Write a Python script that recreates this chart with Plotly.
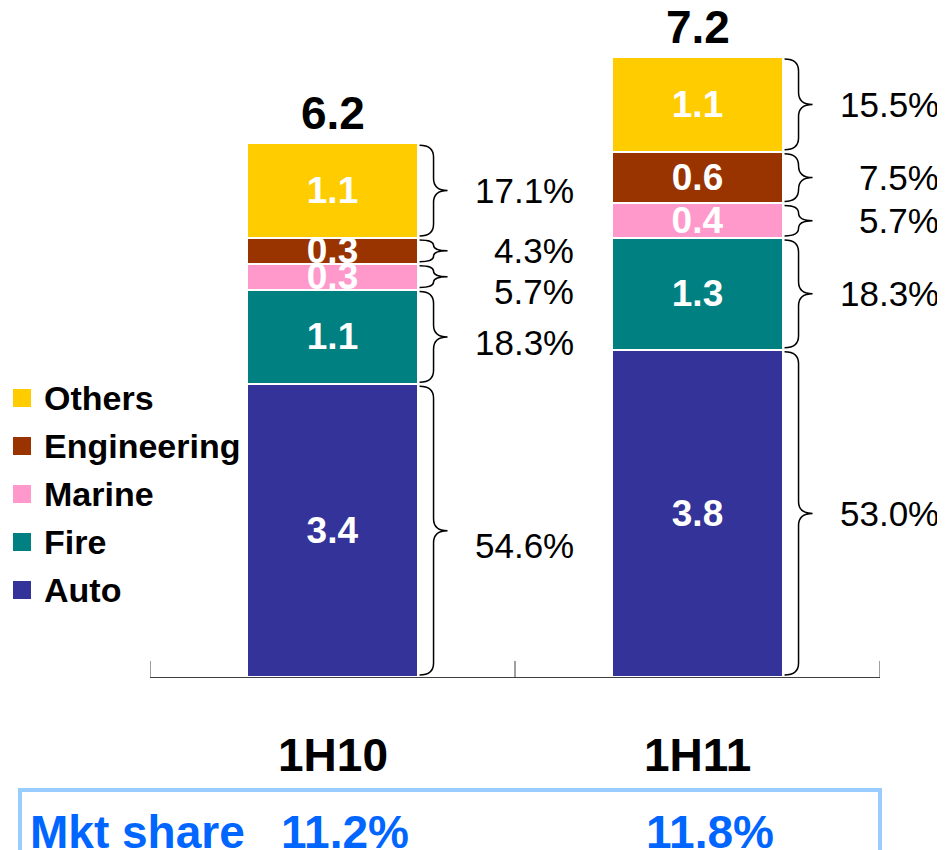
import plotly.graph_objects as go

# --- data ---
periods = ["1H10", "1H11"]
segments = ["Auto", "Fire", "Marine", "Engineering", "Others"]
values = {
    "Auto": [3.4, 3.8],
    "Fire": [1.1, 1.3],
    "Marine": [0.3, 0.4],
    "Engineering": [0.3, 0.6],
    "Others": [1.1, 1.1],
}
shares = {
    "Auto": ["54.6%", "53.0%"],
    "Fire": ["18.3%", "18.3%"],
    "Marine": ["5.7%", "5.7%"],
    "Engineering": ["4.3%", "7.5%"],
    "Others": ["17.1%", "15.5%"],
}
totals = [6.2, 7.2]
mkt_share = ["11.2%", "11.8%"]

colors = {
    "Auto": "#333399",
    "Fire": "#008080",
    "Marine": "#FF99CC",
    "Engineering": "#993300",
    "Others": "#FFCC00",
}

# --- layout geometry (screen pixels; page body has an 8px margin) ---
BODY = 8
W, H = 945 - BODY, 850 - BODY
PL, PR, PT, PB = 150, 880, 20, 677          # plot area on screen
ML, MR, MT = PL - BODY, 945 - PR, PT - BODY
MB = H - (PB - BODY)
PW, PH = PR - PL, PB - PT
PX_PER_UNIT = 86.1
Y_MAX = PH / PX_PER_UNIT
X_RANGE = [-0.5, 1.5]
BAR_W = 0.466
PX_X = (X_RANGE[1] - X_RANGE[0]) / PW   # data units per pixel on x
PX_Y = 1 / PX_PER_UNIT                  # data units per pixel on y
FONT = "Arial, Liberation Sans, sans-serif"

# small vertical nudges (px, + = down) of the share labels, per period
nudge = {
    "Auto": [15, 0], "Fire": [6, 0], "Marine": [15, 0],
    "Engineering": [0, 0], "Others": [0, 0],
}


def paper_x(px):
    return (px - PL) / PW


def paper_y(py):
    return (PB - py) / PH


def data_to_paper_x(x):
    return (x - X_RANGE[0]) / (X_RANGE[1] - X_RANGE[0])


def brace_path(xe, y0, y1):
    a, b, c = xe + 2 * PX_X, xe + 16 * PX_X, xe + 30 * PX_X
    y0, y1 = y0 + 2 * PX_Y, y1 - 2 * PX_Y
    ym = (y0 + y1) / 2
    r = min(12 * PX_Y, (y1 - y0) / 4)
    return (f"M{a},{y1} Q{b},{y1} {b},{y1 - r} L{b},{ym + r} "
            f"Q{b},{ym} {c},{ym} Q{b},{ym} {b},{ym - r} L{b},{y0 + r} "
            f"Q{b},{y0} {a},{y0}")


fig = go.Figure()
xs = list(range(len(periods)))

for seg in segments:
    fig.add_trace(go.Bar(
        x=xs, y=values[seg], width=BAR_W, name=seg,
        marker=dict(color=colors[seg], line=dict(color="white", width=2)),
        text=[f"{v:.1f}" for v in values[seg]],
        textposition="inside", insidetextanchor="middle", textangle=0,
        textfont=dict(color="white", size=37, family=FONT, weight="bold"),
        showlegend=False, hoverinfo="skip",
    ))

shapes = []
annotations = []

# category boundary ticks on the axis
for b in [i - 0.5 for i in xs] + [xs[-1] + 0.5]:
    shapes.append(dict(type="line", xref="x", yref="paper",
                       x0=b, x1=b, y0=0, y1=16 / PH,
                       line=dict(color="#404040", width=1)))

# braces + share labels
for i in xs:
    base = 0.0
    xe = i + BAR_W / 2
    for seg in segments:
        v = values[seg][i]
        shapes.append(dict(type="path", xref="x", yref="y",
                           path=brace_path(xe, base, base + v),
                           line=dict(color="black", width=1.5)))
        annotations.append(dict(
            x=data_to_paper_x(xe + 158 * PX_X),
            y=base + v / 2 - nudge[seg][i] * PX_Y,
            xref="paper", yref="y", xanchor="right", yanchor="middle",
            text=shares[seg][i], showarrow=False,
            font=dict(size=35, color="black", family=FONT)))
        base += v
    # totals
    annotations.append(dict(
        x=i, y=totals[i], xref="x", yref="y", yanchor="bottom", yshift=2,
        text=f"<b>{totals[i]:.1f}</b>", showarrow=False,
        font=dict(size=46, color="black", family=FONT)))
    # period labels
    annotations.append(dict(
        x=i, y=paper_y(755), xref="x", yref="paper", yanchor="middle",
        text=f"<b>{periods[i]}</b>", showarrow=False,
        font=dict(size=46, color="black", family=FONT)))
    # market share values
    annotations.append(dict(
        x=i, y=paper_y(832), xref="x", yref="paper", yanchor="middle",
        xshift=12, text=f"<b>{mkt_share[i]}</b>", showarrow=False,
        font=dict(size=46, color="#0066FF", family=FONT)))

# manual legend (top to bottom: Others ... Auto)
for k, seg in enumerate(reversed(segments)):
    cy = 398 + 48 * k
    shapes.append(dict(type="rect", xref="paper", yref="paper",
                       x0=paper_x(13), x1=paper_x(31),
                       y0=paper_y(cy + 9), y1=paper_y(cy - 9),
                       fillcolor=colors[seg], line=dict(width=0)))
    annotations.append(dict(
        x=paper_x(42), y=paper_y(cy), xref="paper", yref="paper",
        xanchor="left", yanchor="middle", text=f"<b>{seg}</b>",
        showarrow=False, font=dict(size=34, color="black", family=FONT)))

# market share box
shapes.append(dict(type="rect", xref="paper", yref="paper",
                   x0=paper_x(20), x1=paper_x(880),
                   y0=paper_y(870), y1=paper_y(790),
                   line=dict(color="#99CCFF", width=4)))
annotations.append(dict(
    x=paper_x(28), y=paper_y(832), xref="paper", yref="paper",
    xanchor="left", yanchor="middle", text="<b>Mkt share</b>",
    showarrow=False, font=dict(size=46, color="#0066FF", family=FONT)))

fig.update_layout(
    barmode="stack",
    width=W, height=H,
    margin=dict(l=ML, r=MR, t=MT, b=MB),
    paper_bgcolor="white", plot_bgcolor="white",
    uniformtext=dict(minsize=37, mode="show"),
    xaxis=dict(range=X_RANGE, ticks="", showticklabels=False,
               showline=True, linecolor="#404040", linewidth=1,
               showgrid=False, zeroline=False, fixedrange=True),
    yaxis=dict(range=[0, Y_MAX], visible=False, fixedrange=True),
    shapes=shapes,
    annotations=annotations,
)

fig.write_html("out.html")
